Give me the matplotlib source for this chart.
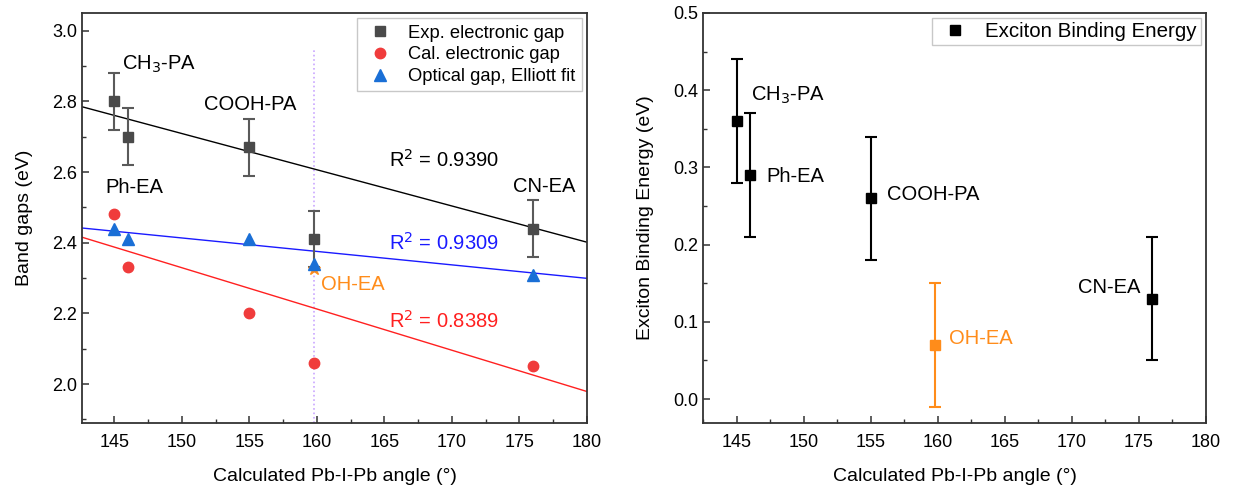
import numpy as np
import matplotlib
matplotlib.use("Agg")
import matplotlib.pyplot as plt
from matplotlib.ticker import MultipleLocator
from matplotlib.lines import Line2D

plt.rcParams['font.family'] = ['Liberation Sans', 'DejaVu Sans']

# ---- data ----
angles = [145, 146, 155, 159.8, 176]
names = ["CH$_3$-PA", "Ph-EA", "COOH-PA", "OH-EA", "CN-EA"]
exp_gap = [2.80, 2.70, 2.67, 2.41, 2.44]
exp_err = [0.08, 0.08, 0.08, 0.08, 0.08]
cal_gap = [2.48, 2.33, 2.20, 2.06, 2.05]
opt_gap = [2.44, 2.41, 2.41, 2.34, 2.31]
oh_star = 2.325
ebe = [0.36, 0.29, 0.26, 0.07, 0.13]
ebe_err = [0.08, 0.08, 0.08, 0.08, 0.08]
r2_text = ["R$^2$ = 0.9390", "R$^2$ = 0.9309", "R$^2$ = 0.8389"]

gray = '#4a4a4a'
red = '#f03c3c'
blue = '#1a6fd6'
orange = '#ff8c1a'

fig = plt.figure(figsize=(12.4, 4.95), dpi=100)
ax1 = fig.add_axes([0.0661, 0.1455, 0.4073, 0.8283])
ax2 = fig.add_axes([0.567, 0.1455, 0.4056, 0.8283])

x = np.array(angles)
fit_idx = [0, 1, 2, 4]  # OH-EA excluded from fits
xl = np.array([142.6, 180])

# left panel
ax1.plot([angles[3], angles[3]], [1.89, 2.95], color='#c9a6ff', lw=1.2, ls=':', zorder=1)
for ys, c in [(exp_gap, 'black'), (opt_gap, '#1a1aff'), (cal_gap, '#ff2020')]:
    p = np.polyfit(x[fit_idx], np.array(ys)[fit_idx], 1)
    ax1.plot(xl, np.polyval(p, xl), color=c, lw=1.0, zorder=2)

ax1.errorbar(angles, exp_gap, yerr=exp_err, fmt='s', color=gray, ecolor='#5a5a5a',
             ms=7, capsize=4, elinewidth=1.5, capthick=1.5, zorder=4)
ax1.plot(angles, cal_gap, 'o', color=red, ms=7.5, zorder=4, ls='none')
ax1.plot(angles, opt_gap, '^', color=blue, ms=8, zorder=5, ls='none')
ax1.plot([angles[3]], [oh_star], '*', color=orange, ms=9, zorder=4)

fs = 14.5
ax1.text(145.6, 2.905, names[0], fontsize=fs, va='center')
ax1.text(144.3, 2.556, names[1], fontsize=fs, va='center')
ax1.text(151.6, 2.79, names[2], fontsize=fs, va='center')
ax1.text(160.3, 2.283, names[3], fontsize=fs, va='center', color=orange)
ax1.text(174.5, 2.56, names[4], fontsize=fs, va='center')
ax1.text(165.3, 2.635, r2_text[0], fontsize=fs, va='center', color='black')
ax1.text(165.3, 2.40, r2_text[1], fontsize=fs, va='center', color='#1a1aff')
ax1.text(165.3, 2.178, r2_text[2], fontsize=fs, va='center', color='#ff2020')

ax1.set_xlim(142.6, 180)
ax1.set_ylim(1.89, 3.05)
ax1.xaxis.set_major_locator(MultipleLocator(5))
ax1.xaxis.set_minor_locator(MultipleLocator(2.5))
ax1.yaxis.set_major_locator(MultipleLocator(0.2))
ax1.yaxis.set_minor_locator(MultipleLocator(0.1))
ax1.set_xlabel("Calculated Pb-I-Pb angle (°)", fontsize=14, labelpad=12)
ax1.set_ylabel("Band gaps (eV)", fontsize=14, labelpad=14)
h1 = [Line2D([], [], marker='s', color=gray, ls='none', ms=7),
      Line2D([], [], marker='o', color=red, ls='none', ms=7.5),
      Line2D([], [], marker='^', color=blue, ls='none', ms=8)]
l1 = ['Exp. electronic gap', 'Cal. electronic gap', 'Optical gap, Elliott fit']
ax1.legend(h1, l1, loc='upper right', fontsize=13.2, frameon=True, fancybox=False,
           edgecolor='#bbbbbb', handlelength=1.85, handletextpad=0.6,
           borderaxespad=0.3, labelspacing=0.25, borderpad=0.35)

# right panel
colors = ['black', 'black', 'black', orange, 'black']
for xi, yi, ei, c in zip(angles, ebe, ebe_err, colors):
    ax2.errorbar([xi], [yi], yerr=[ei], fmt='s', color=c, ecolor=c, ms=7,
                 capsize=4, elinewidth=1.5, capthick=1.5, zorder=3)
h2 = [Line2D([], [], marker='s', color='black', ls='none', ms=7)]
ax2.legend(h2, ['Exciton Binding Energy'], loc='upper right', fontsize=14.8, frameon=True,
           fancybox=False, edgecolor='#bbbbbb', handlelength=1.9, handletextpad=0.5,
           borderaxespad=0.25, borderpad=0.2)

ax2.text(146.1, 0.393, names[0], fontsize=fs, va='center')
ax2.text(147.2, 0.288, names[1], fontsize=fs, va='center')
ax2.text(156.2, 0.265, names[2], fontsize=fs, va='center')
ax2.text(160.8, 0.078, names[3], fontsize=fs, va='center', color=orange)
ax2.text(175.1, 0.145, names[4], fontsize=fs, va='center', ha='right')

ax2.set_xlim(142.5, 180)
ax2.set_ylim(-0.031, 0.5)
ax2.xaxis.set_major_locator(MultipleLocator(5))
ax2.xaxis.set_minor_locator(MultipleLocator(2.5))
ax2.yaxis.set_major_locator(MultipleLocator(0.1))
ax2.yaxis.set_minor_locator(MultipleLocator(0.05))
ax2.set_xlabel("Calculated Pb-I-Pb angle (°)", fontsize=14, labelpad=12)
ax2.set_ylabel("Exciton Binding Energy (eV)", fontsize=14, labelpad=14)

for ax in (ax1, ax2):
    for s in ax.spines.values():
        s.set_color('#333333')
        s.set_linewidth(1.3)
    ax.tick_params(which='both', direction='in', top=False, right=False, labelsize=13, colors='#333333')
    ax.tick_params(which='major', length=5, width=1.1, labelcolor='black')
    ax.tick_params(which='minor', length=3, width=1.0)
    ax.tick_params(axis='x', which='major', pad=8)

fig.savefig("out.png", dpi=100)
